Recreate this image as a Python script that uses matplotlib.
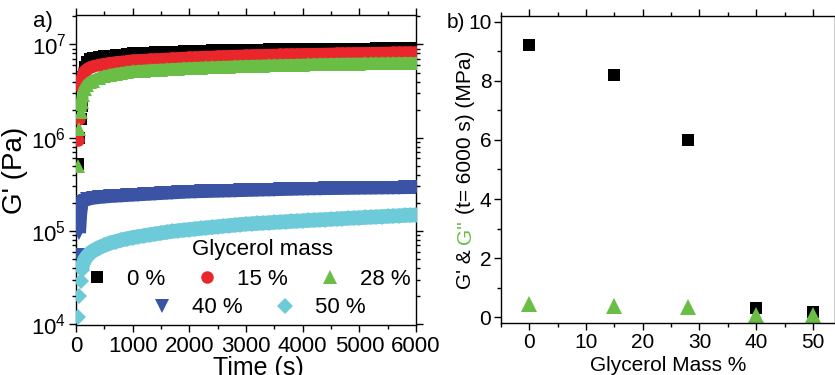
import matplotlib
matplotlib.use("Agg")
import matplotlib.pyplot as plt
from matplotlib.ticker import MultipleLocator, LogLocator

plt.rcParams['font.family'] = ['Liberation Sans', 'DejaVu Sans']
plt.rcParams['mathtext.fontset'] = 'custom'
plt.rcParams['mathtext.rm'] = 'Liberation Sans'
plt.rcParams['mathtext.it'] = 'Liberation Sans:italic'
plt.rcParams['mathtext.bf'] = 'Liberation Sans:bold'

# ---------------- data: panel a (time sweeps) ----------------
time_s = [40, 60, 80, 100, 120, 150, 200, 250, 300,
          400, 500, 600, 700, 800, 900, 1000,
          1100, 1200, 1300, 1400, 1500, 1600, 1700, 1800, 1900, 2000,
          2100, 2200, 2300, 2400, 2500, 2600, 2700, 2800, 2900, 3000,
          3100, 3200, 3300, 3400, 3500, 3600, 3700, 3800, 3900, 4000,
          4100, 4200, 4300, 4400, 4500, 4600, 4700, 4800, 4900, 5000,
          5100, 5200, 5300, 5400, 5500, 5600, 5700, 5800, 5900, 6000]

# G' in MPa
g_0pct_MPa = [0.52, 1.0, 1.6, 2.2, 4.5, 5.8, 6.5, 6.9, 7.1,
              7.3, 7.5, 7.6, 7.7, 7.8, 7.9, 8.0,
              8.05, 8.1, 8.15, 8.2, 8.25, 8.3, 8.35, 8.4, 8.45, 8.5,
              8.53, 8.56, 8.59, 8.62, 8.65, 8.68, 8.7, 8.72, 8.74, 8.76,
              8.78, 8.8, 8.82, 8.84, 8.86, 8.88, 8.9, 8.91, 8.92, 8.93,
              8.94, 8.95, 8.96, 8.97, 8.98, 8.99, 9.0, 9.01, 9.02, 9.03,
              9.04, 9.05, 9.06, 9.07, 9.08, 9.09, 9.1, 9.11, 9.12, 9.13]
g_15pct_MPa = [0.95, 1.6, 3.5, 4.3, 4.8, 5.2, 5.5, 5.7, 5.85,
               6.05, 6.2, 6.35, 6.45, 6.55, 6.65, 6.75,
               6.8, 6.85, 6.9, 6.95, 7.0, 7.05, 7.1, 7.15, 7.2, 7.25,
               7.3, 7.34, 7.38, 7.42, 7.46, 7.5, 7.54, 7.57, 7.6, 7.63,
               7.66, 7.69, 7.72, 7.75, 7.78, 7.81, 7.83, 7.85, 7.87, 7.89,
               7.91, 7.93, 7.95, 7.97, 7.99, 8.01, 8.03, 8.05, 8.07, 8.09,
               8.1, 8.12, 8.14, 8.16, 8.18, 8.2, 8.21, 8.22, 8.23, 8.24]
g_28pct_MPa = [0.5, 1.25, 1.9, 2.4, 2.9, 3.3, 3.7, 3.95, 4.1,
               4.35, 4.55, 4.7, 4.85, 4.95, 5.05, 5.15,
               5.2, 5.25, 5.3, 5.34, 5.38, 5.42, 5.46, 5.5, 5.54, 5.58,
               5.61, 5.64, 5.67, 5.7, 5.73, 5.76, 5.79, 5.82, 5.85, 5.88,
               5.9, 5.92, 5.94, 5.96, 5.98, 6.0, 6.02, 6.04, 6.06, 6.08,
               6.1, 6.12, 6.14, 6.16, 6.18, 6.2, 6.21, 6.22, 6.23, 6.24,
               6.25, 6.26, 6.27, 6.28, 6.29, 6.3, 6.31, 6.32, 6.33, 6.34]
# G' in kPa
g_40pct_kPa = [55, 95, 150, 195, 205, 212, 218, 222, 225,
               229, 232, 235, 237, 239, 241, 243,
               245, 247, 249, 251, 253, 255, 257, 259, 261, 263,
               264, 265, 266, 267, 268, 269, 270, 271, 272, 273,
               274, 275, 276, 277, 278, 279, 280, 281, 282, 283,
               284, 284.5, 285, 285.5, 286, 286.5, 287, 287.5, 288, 288.5,
               289, 289.5, 290, 290.5, 291, 291.5, 292, 292.5, 293, 293.5]
g_50pct_kPa = [12, 20, 29, 38, 44, 49, 54, 58, 61,
               66, 70, 74, 77, 80, 82.5, 85,
               87, 89, 91, 93, 95, 97, 99, 100.5, 102, 103.5,
               105, 106.5, 108, 109.5, 111, 112.5, 114, 115.5, 117, 118.5,
               119.5, 120.5, 121.5, 122.5, 123.5, 124.5, 125.5, 126.5, 127.5, 128.5,
               129.5, 130.5, 131.5, 132.5, 133.5, 134.5, 135.5, 136.5, 137.5, 138.5,
               139.5, 140.5, 141.5, 142.5, 143.5, 144.5, 145.5, 146.5, 147.5, 148.5]

series_labels = ["0 %", "15 %", "28 %", "40 %", "50 %"]

# ---------------- data: panel b ----------------
glycerol_mass = [0, 15, 28, 40, 50]
g_prime_6000 = [9.2, 8.2, 6.0, 0.32, 0.18]
g_dprime_6000 = [0.45, 0.38, 0.34, 0.07, 0.07]

# ---------------- style ----------------
C_BLACK = "#000000"
C_RED = "#e8262b"
C_GREEN = "#6abd45"
C_BLUE = "#3a53a4"
C_CYAN = "#6ccad9"

fig = plt.figure(figsize=(8.35, 3.75), dpi=100)
W, H = 835.0, 375.0
ax1 = fig.add_axes([76 / W, 1 - 325 / H, 340 / W, 310 / H])
ax2 = fig.add_axes([501 / W, 1 - 323 / H, 334 / W, 307 / H])

# (values, colour, marker, marker size, band width, index where dense band starts)
series = [
    ([v * 1e6 for v in g_0pct_MPa], C_BLACK, "s", 8.0, 8.0, 4),
    ([v * 1e6 for v in g_15pct_MPa], C_RED, "o", 9.0, 8.5, 2),
    ([v * 1e6 for v in g_28pct_MPa], C_GREEN, "^", 10.0, 8.5, 2),
    ([v * 1e3 for v in g_40pct_kPa], C_BLUE, "v", 10.0, 9.5, 1),
    ([v * 1e3 for v in g_50pct_kPa], C_CYAN, "D", 8.0, 10.5, 3),
]
handles = []
for i, ((vals, col, mk, ms, bw, k0), lab) in enumerate(zip(series, series_labels)):
    ax1.plot(time_s[k0:], vals[k0:], linestyle="-", linewidth=bw, color=col,
             solid_capstyle="butt", solid_joinstyle="round", zorder=2 + i)
    h, = ax1.plot(time_s, vals, linestyle="none", marker=mk, ms=ms,
                  color=col, markeredgewidth=0, label=lab, zorder=2 + i)
    handles.append(h)

ax1.set_yscale("log")
ax1.set_xlim(0, 6000)
ax1.set_ylim(9.8e3, 2.07e7)
ax1.xaxis.set_major_locator(MultipleLocator(1000))
ax1.xaxis.set_minor_locator(MultipleLocator(500))
ax1.yaxis.set_major_locator(LogLocator(base=10, numticks=10))
ax1.yaxis.set_minor_locator(LogLocator(base=10, subs=range(2, 10), numticks=20))

for ax in (ax1, ax2):
    ax.tick_params(which="both", direction="out", top=True, right=True,
                   labelsize=16, width=1.0, pad=2)
    ax.tick_params(which="major", length=5)
    ax.tick_params(which="minor", length=3)
    for sp in ax.spines.values():
        sp.set_linewidth(1.0)
ax1.tick_params(axis="x", pad=3)

ax1.set_ylabel("G' (Pa)", fontsize=20, labelpad=2)
ax1.set_xlabel("Time (s)", fontsize=18)
ax1.xaxis.set_label_coords(0.535, -0.1)

# legend
ax1.text(0.55, 0.242, "Glycerol mass", transform=ax1.transAxes,
         ha="center", va="center", fontsize=16)
leg_kw = dict(frameon=False, fontsize=16, handlelength=1.0, handletextpad=0.85,
              columnspacing=1.4, borderpad=0, borderaxespad=0, loc="center left")
leg1 = ax1.legend(handles=handles[:3], ncol=3, bbox_to_anchor=(0.029, 0.148), **leg_kw)
ax1.add_artist(leg1)
leg2 = ax1.legend(handles=handles[3:], ncol=2, bbox_to_anchor=(0.22, 0.055), **leg_kw)

fig.text(43 / W, 1 - 22 / H, "a)", ha="center", va="center", fontsize=16)

# ---------------- panel b ----------------
ax2.plot(glycerol_mass, g_prime_6000, linestyle="none", marker="s", ms=8.5,
         color=C_BLACK, markeredgewidth=0)
ax2.plot(glycerol_mass, g_dprime_6000, linestyle="none", marker="^", ms=11,
         color=C_GREEN, markeredgewidth=0)
ax2.set_xlim(-5, 53.9)
ax2.set_ylim(-0.19, 10.19)
ax2.xaxis.set_major_locator(MultipleLocator(10))
ax2.xaxis.set_minor_locator(MultipleLocator(5))
ax2.yaxis.set_major_locator(MultipleLocator(2))
ax2.yaxis.set_minor_locator(MultipleLocator(1))
ax2.tick_params(labelsize=15)
ax2.set_xlabel("Glycerol Mass %", fontsize=15, labelpad=3)

fig.text(456 / W, 1 - 22 / H, "b)", ha="center", va="center", fontsize=15)

# multi-coloured rotated y label for panel b
fig.canvas.draw()
r = fig.canvas.get_renderer()
def text_w(s, fs=15):
    t = fig.text(0, 0, s, fontsize=fs)
    w = t.get_window_extent(r).width
    t.remove()
    return w

full = "G' & G'' (t= 6000 s) (MPa)"
start2 = text_w("G' & G''") - text_w("G''")
start3 = text_w("G' & G'' (") - text_w("(")
parts = [("G' &", C_BLACK, 0.0), ("G''", C_GREEN, start2),
         ("(t= 6000 s) (MPa)", C_BLACK, start3)]
total = text_w(full)
base_x = 471.0
y_start = (H - 170.0) - total / 2.0
for s, col, off in parts:
    fig.text(base_x / W, (y_start + off) / H, s, rotation=90,
             rotation_mode="anchor", ha="left", va="baseline",
             color=col, fontsize=15)

fig.savefig("out.png", dpi=100)
